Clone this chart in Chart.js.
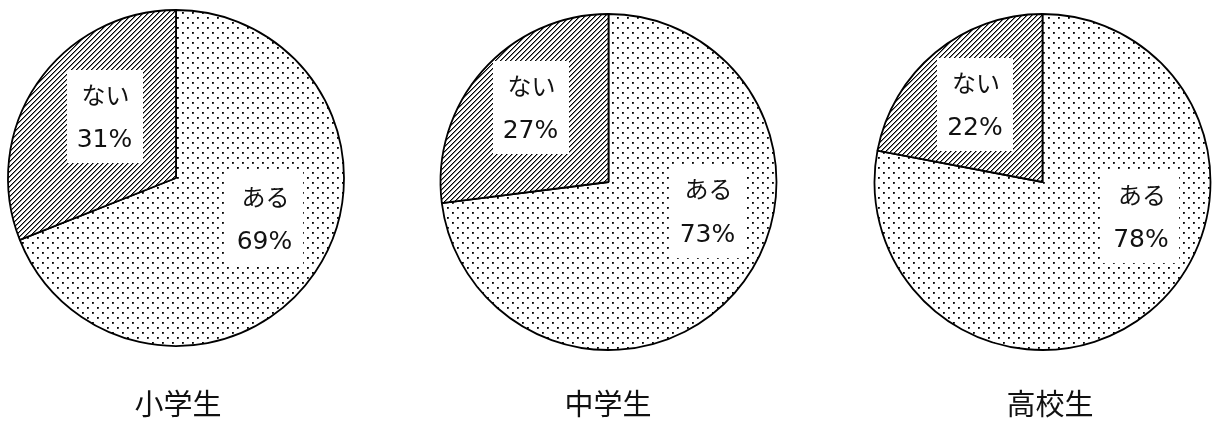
<!DOCTYPE html>
<html><head><meta charset="utf-8">
<script src="https://cdn.jsdelivr.net/npm/chart.js@4/dist/chart.umd.min.js"></script>
<style>
html,body{margin:0;padding:0;background:#fff;}
#wrap{position:relative;width:1213px;height:421px;overflow:hidden;background:#fff;}
canvas{position:absolute;top:0;}
</style></head><body>
<div id="wrap">
<canvas id="c0"></canvas><canvas id="c1"></canvas><canvas id="c2"></canvas>
</div>
<script>
// ---- data ----
const categories = ['小学生', '中学生', '高校生'];
const sliceLabels = ['ある', 'ない'];
const aruValues = [69, 73, 78];
const naiValues = [31, 27, 22];

// ---- layout (positions / sizes only) ----
const frames = [
  { left: 0,   width: 352, padBottom: 65, titleX: 178 },
  { left: 430, width: 357, padBottom: 57, titleX: 608 },
  { left: 871, width: 343, padBottom: 57, titleX: 1050 }
];
// label box offsets from pie centre: [ある, ない]
const boxOffsets = [
  [[88.5, 40.5], [-71.5, -61.5]],
  [[99, 29], [-78, -74.5]],
  [[98.5, 34.5], [-67.5, -77.5]]
];
const BOX_W = 76, BOX_H = 93;

function makeDotPattern() {
  const c = document.createElement('canvas');
  c.width = 10; c.height = 10;
  const x = c.getContext('2d');
  const img = x.createImageData(10, 10);
  for (let i = 0; i < 400; i++) img.data[i] = 255;
  function px(a, b, v) { const k = (b * 10 + a) * 4; img.data[k] = img.data[k+1] = img.data[k+2] = v; }
  [[2, 2], [7, 7]].forEach(([a, b]) => {
    px(a, b, 0); px(a + 1, b, 40); px(a, b + 1, 40); px(a + 1, b + 1, 90);
  });
  x.putImageData(img, 0, 0);
  return x.createPattern(c, 'repeat');
}
function makeHatchPattern() {
  const c = document.createElement('canvas');
  c.width = 5; c.height = 5;
  const x = c.getContext('2d');
  const img = x.createImageData(5, 5);
  for (let yy = 0; yy < 5; yy++) for (let xx = 0; xx < 5; xx++) {
    const k = (yy * 5 + xx) * 4;
    const m = (xx + yy) % 5;
    const v = m === 0 ? 0 : (m === 1 ? 130 : 255);
    img.data[k] = img.data[k+1] = img.data[k+2] = v; img.data[k+3] = 255;
  }
  x.putImageData(img, 0, 0);
  return x.createPattern(c, 'repeat');
}

const boxLabelPlugin = {
  id: 'boxLabels',
  afterDatasetsDraw(chart, args, opts) {
    const ctx = chart.ctx;
    const arc = chart.getDatasetMeta(0).data[0];
    const cx = arc.x, cy = arc.y;
    const ds = chart.data.datasets[0].data;
    ctx.save();
    chart.data.labels.forEach((lab, i) => {
      const [dx, dy] = opts.offsets[i];
      const bx = cx + dx, by = cy + dy;
      ctx.fillStyle = '#fff';
      ctx.fillRect(Math.round(bx - BOX_W / 2), Math.round(by - BOX_H / 2), BOX_W, BOX_H);
      ctx.fillStyle = '#111';
      ctx.textAlign = 'center';
      ctx.textBaseline = 'middle';
      ctx.font = '24px "Noto Sans CJK JP"';
      ctx.fillText(lab, bx + 1, by - 22);
      ctx.font = '25px "DejaVu Sans", "Noto Sans CJK JP"';
      ctx.fillText(ds[i] + '%', bx, by + 24);
    });
    // category name
    ctx.font = '29px "Noto Sans CJK JP"';
    ctx.textAlign = 'center';
    ctx.textBaseline = 'middle';
    ctx.fillStyle = '#111';
    ctx.fillText(opts.title, opts.titleX, 404);
    ctx.restore();
  }
};

const dots = makeDotPattern();
const hatch = makeHatchPattern();

categories.forEach((cat, i) => {
  const f = frames[i];
  const cv = document.getElementById('c' + i);
  cv.width = f.width; cv.height = 421;
  cv.style.left = f.left + 'px';
  cv.style.width = f.width + 'px'; cv.style.height = '421px';
  new Chart(cv, {
    type: 'pie',
    data: {
      labels: sliceLabels,
      datasets: [{
        data: [aruValues[i], naiValues[i]],
        backgroundColor: [dots, hatch],
        borderColor: '#000',
        borderWidth: 1.8,
        radius: 168
      }]
    },
    options: {
      responsive: false,
      animation: false,
      events: [],
      layout: { padding: { top: 0, left: 0, right: 0, bottom: f.padBottom } },
      plugins: {
        legend: { display: false },
        tooltip: { enabled: false },
        title: { display: false },
        boxLabels: { offsets: boxOffsets[i], title: cat, titleX: f.titleX - f.left }
      }
    },
    plugins: [boxLabelPlugin]
  });
});
</script>
</body></html>
